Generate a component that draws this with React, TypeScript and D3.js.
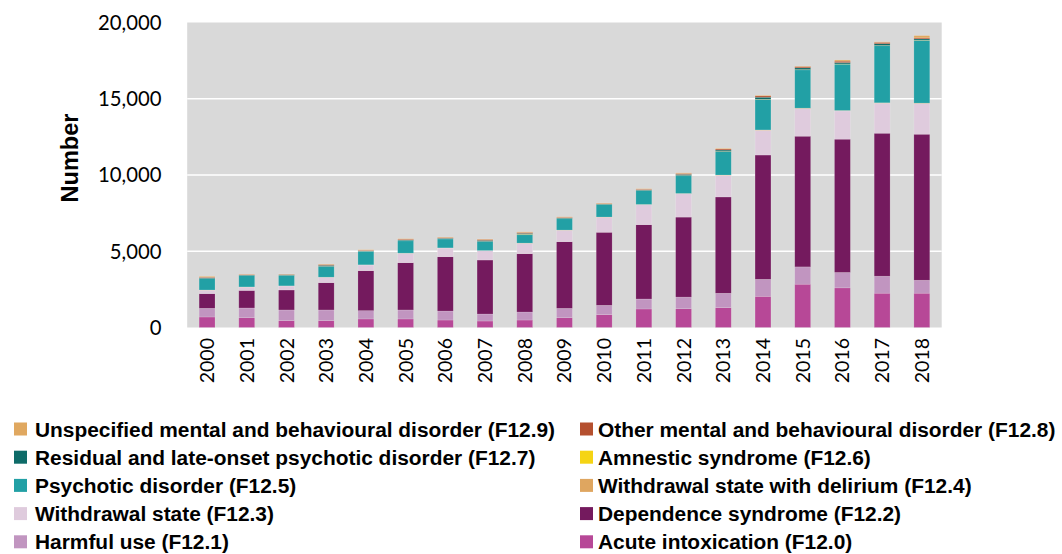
import React from "react";
import * as d3 from "d3";

const years = ["2000","2001","2002","2003","2004","2005","2006","2007","2008","2009","2010","2011","2012","2013","2014","2015","2016","2017","2018"];

const acute = [690, 640, 450, 450, 560, 560, 490, 425, 490, 640, 840, 1215, 1230, 1300, 2045, 2840, 2600, 2250, 2250];
const harmful = [570, 640, 700, 700, 545, 590, 590, 460, 525, 615, 615, 655, 765, 945, 1115, 1135, 1010, 1115, 850];
const dependence = [960, 1150, 1310, 1790, 2620, 3100, 3560, 3540, 3825, 4370, 4790, 4870, 5245, 6315, 8150, 8570, 8740, 9375, 9575];
const withdrawal = [230, 220, 260, 350, 375, 615, 570, 610, 680, 750, 985, 1310, 1530, 1420, 1620, 1815, 1855, 1970, 2015];
const delirium = [10, 10, 10, 10, 10, 10, 10, 10, 15, 15, 15, 20, 20, 20, 25, 25, 25, 25, 25];
const psychotic = [740, 740, 680, 700, 875, 810, 590, 590, 545, 740, 810, 900, 1160, 1530, 1990, 2510, 3040, 3740, 4105];
const amnestic = [5, 5, 5, 5, 5, 5, 5, 5, 30, 10, 10, 10, 10, 15, 15, 15, 15, 15, 15];
const residual = [60, 40, 50, 70, 40, 50, 40, 70, 60, 50, 40, 50, 80, 90, 140, 120, 90, 120, 90];
const other = [40, 30, 20, 50, 40, 50, 40, 60, 60, 40, 30, 40, 60, 70, 90, 80, 90, 90, 65];
const unspecified = [50, 20, 20, 30, 30, 30, 30, 30, 40, 30, 30, 30, 40, 40, 40, 30, 80, 30, 150];

const seriesNames = [
  "Acute intoxication (F12.0)",
  "Harmful use (F12.1)",
  "Dependence syndrome (F12.2)",
  "Withdrawal state (F12.3)",
  "Withdrawal state with delirium (F12.4)",
  "Psychotic disorder (F12.5)",
  "Amnestic syndrome (F12.6)",
  "Residual and late-onset psychotic disorder (F12.7)",
  "Other mental and behavioural disorder (F12.8)",
  "Unspecified mental and behavioural disorder (F12.9)",
];
const seriesValues = [acute, harmful, dependence, withdrawal, delirium, psychotic, amnestic, residual, other, unspecified];
const seriesColors = ["#B74897", "#C195C0", "#741A5E", "#DFCBDD", "#DFA660", "#22A0A5", "#F5D414", "#0E6B68", "#B5502F", "#E0A860"];

const yTicks = [0, 5000, 10000, 15000, 20000];

// legend order (rows, left then right)
const legendOrder = [9, 8, 7, 6, 5, 4, 3, 2, 1, 0];

export default function App() {
  const W = 1062, H = 554;
  const left = 187.2, right = 941.7, top = 22.5, bottom = 327.5;
  const x = d3.scaleBand<string>().domain(years).range([left, right]).paddingInner(0.6).paddingOuter(0.3);
  const y = d3.scaleLinear().domain([0, 20000]).range([bottom, top]);

  const table = years.map((yr, i) => {
    const row: any = { year: yr };
    seriesNames.forEach((n, k) => (row[n] = seriesValues[k][i]));
    return row;
  });
  const stacked = d3.stack<any>().keys(seriesNames)(table);
  const fmt = d3.format(",");
  const numFont = "Lato, 'Open Sans', sans-serif";
  const boldFont = "'Liberation Sans', Arial, sans-serif";

  return (
    <svg width={W} height={H} style={{ position: "absolute", left: 0, top: 0, background: "#fff" }} fontFamily={numFont}>
      <rect x={left} y={top} width={right - left} height={bottom - top} fill="#D9D9D9" />
      {yTicks.map((t) => (
        <g key={t}>
          {t > 0 && t < 20000 && (
            <line x1={left} x2={right} y1={y(t)} y2={y(t)} stroke="#fff" strokeWidth={1.5} />
          )}
          <text x={161.5} y={y(t)} dy="0.36em" textAnchor="end" fontSize={20.3} fill="#000">
            {fmt(t)}
          </text>
        </g>
      ))}
      {stacked.map((s, k) => (
        <g key={s.key} fill={seriesColors[k]}>
          {s.map((d, i) => {
            const h = y(d[0]) - y(d[1]);
            if (h <= 0) return null;
            return (
              <rect key={i} x={x(years[i])} y={y(d[1])} width={x.bandwidth()} height={h}
                stroke="rgba(255,255,255,0.25)" strokeWidth={0.6} />
            );
          })}
        </g>
      ))}
      {years.map((yr) => (
        <text key={yr} transform={`translate(${(x(yr) as number) + x.bandwidth() / 2},338) rotate(-90)`}
          textAnchor="end" dy="0.36em" fontSize={19.5} fill="#000">
          {yr}
        </text>
      ))}
      <text transform="translate(70,158) rotate(-90)" textAnchor="middle" dy="0.36em" fontSize={23.5}
        fontWeight="bold" fontFamily={boldFont} fill="#000">
        Number
      </text>
      {legendOrder.map((k, j) => {
        const row = Math.floor(j / 2);
        const col = j % 2;
        const cy = 429 + row * 28.2;
        const sx = col === 0 ? 14 : 580;
        const tx = col === 0 ? 35 : 598;
        return (
          <g key={k}>
            <rect x={sx} y={cy - 6.5} width={13} height={13} fill={seriesColors[k]} />
            <text x={tx} y={cy} dy="0.36em" fontSize={20.9} fontWeight="bold" fontFamily={boldFont} fill="#000">
              {seriesNames[k]}
            </text>
          </g>
        );
      })}
    </svg>
  );
}
